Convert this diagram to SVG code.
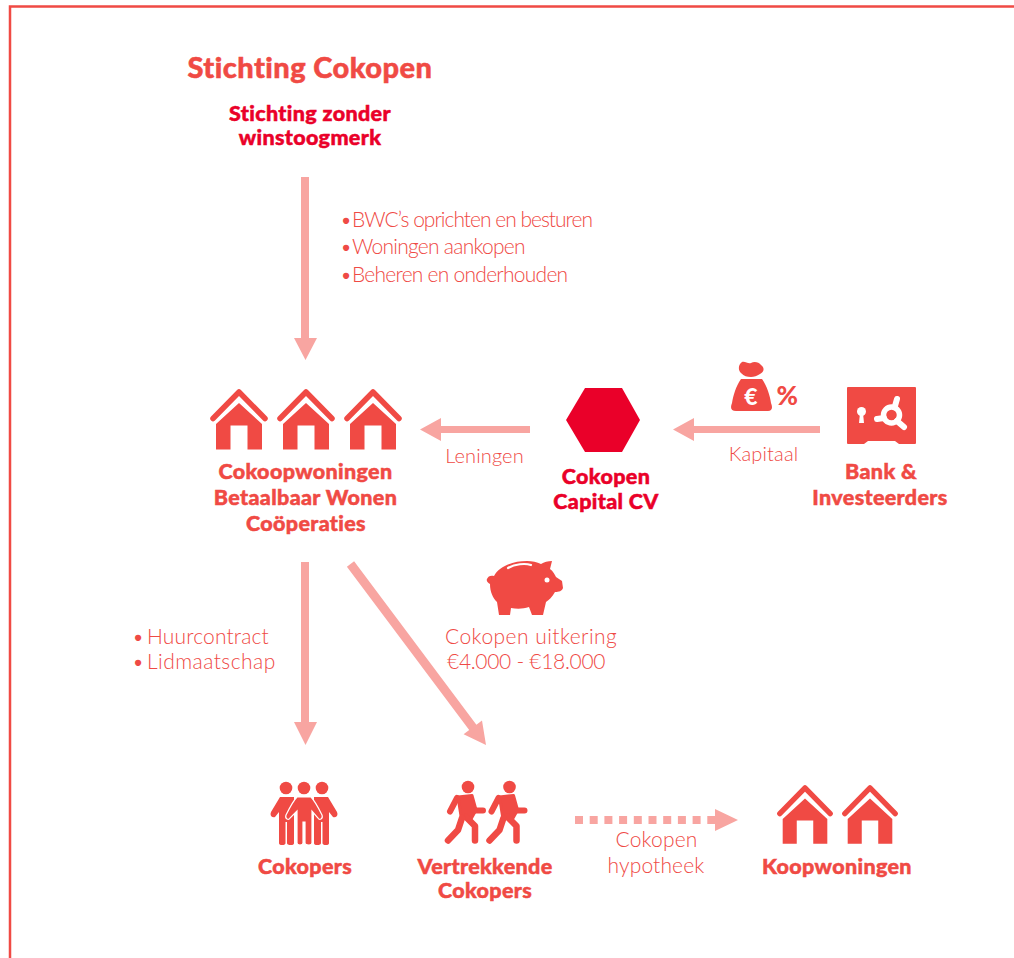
<svg xmlns="http://www.w3.org/2000/svg" xmlns:xlink="http://www.w3.org/1999/xlink" width="1014" height="958" viewBox="0 0 1014 958">
<style>
text{font-variant-ligatures:none}
.b{font-family:"Lato","Liberation Sans",sans-serif;font-weight:900;fill:#f04a44;stroke:#f04a44;stroke-width:.5px;text-anchor:middle;font-size:21.500px;letter-spacing:.35px}
.t{font-size:29px;letter-spacing:.45px}
.c{fill:#ea0029;stroke:#ea0029}
.l{font-family:"Lato","Liberation Sans",sans-serif;font-weight:300;fill:#ef4a45;font-size:21px;letter-spacing:.15px}
.n{letter-spacing:-1px}
.k{letter-spacing:-.75px}
.m{text-anchor:middle}
.i{fill:#f04a44}
.a{fill:#f8a5a1}
</style>
<defs>
<g id="house">
<path d="M-26 30.500 L0 4 L26 30.500" fill="none" stroke="#f04a44" stroke-width="5.500" stroke-linecap="round" stroke-linejoin="round"/>
<path class="i" fill-rule="evenodd" d="M0 15 L23 36 V61.500 H8.500 V37.500 H-8.500 V61.500 H-23 V36 Z"/>
</g>
</defs>
<rect width="1014" height="958" fill="#fff"/>
<path d="M1014 6.500 H10 V958" fill="none" stroke="#f04a44" stroke-width="2.500"/>
<g id="connectors">
<path class="a" d="M301 177 H309 V338 H317 L305.500 360 L294 338 H301 Z"/>
<path class="a" d="M530 426 V433 H441 V441 L420 429.500 L441 418 V426 Z"/>
<path class="a" d="M820 426 V433 H694 V441 L673 429.500 L694 418 V426 Z"/>
<path class="a" d="M301 562 H309 V722 H317 L305.500 745 L294 722 H301 Z"/>
<path class="a" d="M346.900 566.700 L354.100 561.300 L476.400 724.700 L482 720.500 L486 745 L463.600 734.300 L469.200 730.100 Z"/>
<path d="M575 820 H708" stroke="#f8a5a1" stroke-width="8" stroke-dasharray="8 6.700" fill="none"/>
<path class="a" d="M708 816 H715 V809 L738 820 L715 831 V824 H708 Z"/>
</g>
<g id="stichting">
<text x="310" y="77.500" class="b t">Stichting Cokopen</text>
<text x="310" y="120.500" class="b c">Stichting zonder</text>
<text x="310" y="144.500" class="b c">winstoogmerk</text>
</g>
<g id="taken">
<text x="340" y="226.500" class="l n"><tspan>•</tspan><tspan x="352">BWC’s oprichten en besturen</tspan></text>
<text x="340" y="253.500" class="l k"><tspan>•</tspan><tspan x="352">Woningen aankopen</tspan></text>
<text x="340" y="281.500" class="l k"><tspan>•</tspan><tspan x="352">Beheren en onderhouden</tspan></text>
</g>
<g id="bwc">
<use xlink:href="#house" x="239" y="388"/>
<use xlink:href="#house" x="306" y="388"/>
<use xlink:href="#house" x="373" y="388"/>
<text x="305.500" y="478.500" class="b">Cokoopwoningen</text>
<text x="305.500" y="504.500" class="b">Betaalbaar Wonen</text>
<text x="306" y="530.500" class="b">Coöperaties</text>
</g>
<g id="capital">
<path class="c" style="stroke:none" d="M566 420 L585 388 H622 L640 420 L622 452 H585 Z"/>
<text x="606" y="483.500" class="b c">Cokopen</text>
<text x="606" y="508.500" class="b c">Capital CV</text>
</g>
<text x="484.500" y="462.500" class="l m" style="font-size:20px">Leningen</text>
<text x="763.500" y="460.500" class="l m" style="font-size:20px">Kapitaal</text>
<g id="zak">
<path class="i" d="M742 362 C745 361 748 364 751 363 C754 361 759 362 761 365 C765 368 764 372 760 374 C757 376 754 377 751 377 C747 377 744 376 741 373 C738 370 738 365 742 362 Z"/>
<path class="i" d="M741 379 H762 C767 386 770 396 771 403 C773 408 772 411 768 411 H736 C731 411 730 408 732 403 C733 396 736 386 741 379 Z"/>
<text x="751" y="405" text-anchor="middle" style="font-family:'Lato','Liberation Sans',sans-serif;font-weight:900;font-size:23px;fill:#fff">€</text>
<text x="776.500" y="405" style="font-family:'Lato','Liberation Sans',sans-serif;font-weight:900;font-size:26px;fill:#f04a44">%</text>
</g>
<g id="bank">
<path class="i" d="M848 387 H915 Q916 387 916 388 V443 Q916 444 915 444 H899 L895 441 H868 L864 444 H848 Q847 444 847 443 V388 Q847 387 848 387 Z"/>
<circle cx="861.500" cy="411.500" r="4.500" fill="#fff"/>
<path fill="#fff" d="M860 413 H863 L864 423 H859 Z"/>
<circle cx="891.500" cy="415" r="8" fill="none" stroke="#fff" stroke-width="5.500"/>
<path d="M897 399 L895 406 M884 418 L877 419 M897 421 L904 427" stroke="#fff" stroke-width="6" stroke-linecap="round"/>
<text x="881" y="478.500" class="b">Bank &amp;</text>
<text x="880" y="504.500" class="b">Investeerders</text>
</g>
<g id="huur">
<text x="132" y="643.500" class="l"><tspan>•</tspan><tspan x="147">Huurcontract</tspan></text>
<text x="132" y="668.500" class="l" style="letter-spacing:.45px"><tspan>•</tspan><tspan x="147">Lidmaatschap</tspan></text>
</g>
<g id="uitkering">
<path class="i" d="M487 579 C488 576 491 575 494 576 C499 566 513 561 527 561 C532 561 537 562 541 564 C544 562 548 561 552 561 L550 569 C553 571 555 575 556 577 L562 581 L563 588 C562 591 559 592 555 592 C552 597 549 600 546 602 L543 615 H532 L529 607 C523 609 517 609 511 608 L510 615 H499 L497 602 C493 598 490 592 490 584 C488 583 486 581 487 579 Z"/>
<path d="M508 568 C515 564 525 563 531 565" fill="none" stroke="#fff" stroke-width="2.200" stroke-linecap="round"/>
<circle cx="547" cy="580" r="2.500" fill="#fff"/>
<text x="445" y="643.500" class="l" style="letter-spacing:.45px">Cokopen uitkering</text>
<text x="447" y="668.500" class="l" style="letter-spacing:-.3px">€4.000 - €18.000</text>
</g>
<g id="cokopers">
<g id="p3" class="i">
<circle cx="286" cy="788" r="6.300"/><circle cx="304" cy="788" r="6.300"/><circle cx="322" cy="788" r="6.300"/>
<path d="M280 797 H294 V843 Q294 845 291 845 Q287 845 287 843 V822 H285.500 V843 Q285.500 845 282 845 Q279 845 279 843 V812 L275 817 Q273 818 271 816 Q270 814 271 812 Z"/>
<path d="M328 797 H314 V843 Q314 845 317 845 Q321 845 321 843 V822 H322.500 V843 Q322.500 845 326 845 Q329 845 329 843 V812 L333 817 Q335 818 337 816 Q338 814 337 812 Z"/>
<path stroke="#fff" stroke-width="1.200" d="M297 797 H311 C314 800 319 809 322 815 Q323 818 321 819 Q319 820 318 818 L312 811 V843 Q312 845 309 845 Q305 845 305 843 V822 H303 V843 Q303 845 300 845 Q297 845 297 843 V811 L290 818 Q289 820 287 819 Q285 818 286 815 C289 809 294 800 297 797 Z"/>
</g>
<text x="305" y="873.500" class="b">Cokopers</text>
</g>
<g id="vertrek">
<g id="r1" fill="none" stroke="#f04a44" stroke-linecap="round" stroke-linejoin="round">
<circle cx="468" cy="787" r="6.300" fill="#f04a44" stroke="none"/>
<path d="M450 811.500 L457 798" stroke-width="6"/>
<path d="M472 805 L474 810.500 L483 810.500" stroke-width="6"/>
<path d="M458 797 L472 795.500 L476 810 L471 819 L461 816 Z" fill="#f04a44" stroke-width="3"/>
<path d="M466 817 L475 826 V840.500" stroke-width="6.500"/>
<path d="M462 818 L458 830 L448 840.500" stroke-width="6.500"/>
</g>
<use xlink:href="#r1" x="41.500" y="0"/>
<text x="485" y="873.500" class="b">Vertrekkende</text>
<text x="485" y="898" class="b">Cokopers</text>
</g>
<text x="656.500" y="846.500" class="l m">Cokopen</text>
<text x="656" y="872.500" class="l m">hypotheek</text>
<g id="koop">
<use xlink:href="#house" transform="translate(805 784) scale(.97)"/>
<use xlink:href="#house" transform="translate(870 784) scale(.97)"/>
<text x="837" y="873.500" class="b">Koopwoningen</text>
</g>
</svg>
